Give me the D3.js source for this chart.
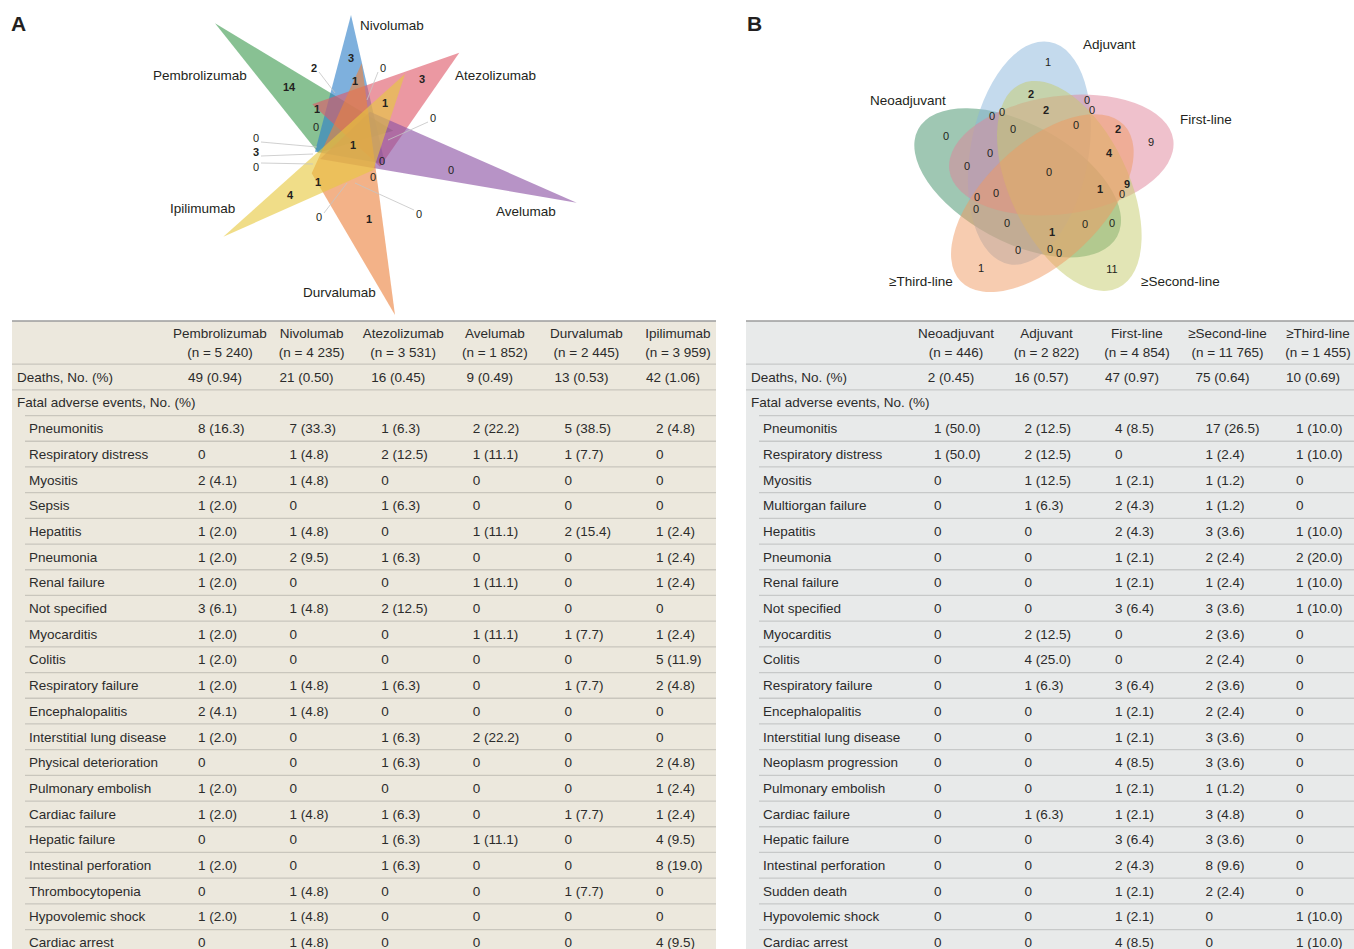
<!DOCTYPE html>
<html>
<head>
<meta charset="utf-8">
<script src="https://cdn.jsdelivr.net/npm/d3@7"></script>
<style>
  body { margin: 0; background: #fff; }
  svg { display: block; font-family: "Liberation Sans", Arial, Helvetica, sans-serif; }
</style>
</head>
<body>
<svg id="fig" width="1354" height="949"></svg>
<script>
// ---------------- Panel A: ICI agents ----------------
const drugs = ["Pembrolizumab", "Nivolumab", "Atezolizumab", "Avelumab", "Durvalumab", "Ipilimumab"];
const drugN = ["5 240", "4 235", "3 531", "1 852", "2 445", "3 959"];
const drugDeaths = ["49 (0.94)", "21 (0.50)", "16 (0.45)", "9 (0.49)", "13 (0.53)", "42 (1.06)"];
const eventsA = ["Pneumonitis", "Respiratory distress", "Myositis", "Sepsis", "Hepatitis", "Pneumonia",
  "Renal failure", "Not specified", "Myocarditis", "Colitis", "Respiratory failure", "Encephalopalitis",
  "Interstitial lung disease", "Physical deterioration", "Pulmonary embolish", "Cardiac failure",
  "Hepatic failure", "Intestinal perforation", "Thrombocytopenia", "Hypovolemic shock", "Cardiac arrest"];
const pembrolizumabAE = ["8 (16.3)", "0", "2 (4.1)", "1 (2.0)", "1 (2.0)", "1 (2.0)", "1 (2.0)", "3 (6.1)", "1 (2.0)", "1 (2.0)", "1 (2.0)", "2 (4.1)", "1 (2.0)", "0", "1 (2.0)", "1 (2.0)", "0", "1 (2.0)", "0", "1 (2.0)", "0"];
const nivolumabAE = ["7 (33.3)", "1 (4.8)", "1 (4.8)", "0", "1 (4.8)", "2 (9.5)", "0", "1 (4.8)", "0", "0", "1 (4.8)", "1 (4.8)", "0", "0", "0", "1 (4.8)", "0", "0", "1 (4.8)", "1 (4.8)", "1 (4.8)"];
const atezolizumabAE = ["1 (6.3)", "2 (12.5)", "0", "1 (6.3)", "0", "1 (6.3)", "0", "2 (12.5)", "0", "0", "1 (6.3)", "0", "1 (6.3)", "1 (6.3)", "0", "1 (6.3)", "1 (6.3)", "1 (6.3)", "0", "0", "0"];
const avelumabAE = ["2 (22.2)", "1 (11.1)", "0", "0", "1 (11.1)", "0", "1 (11.1)", "0", "1 (11.1)", "0", "0", "0", "2 (22.2)", "0", "0", "0", "1 (11.1)", "0", "0", "0", "0"];
const durvalumabAE = ["5 (38.5)", "1 (7.7)", "0", "0", "2 (15.4)", "0", "0", "0", "1 (7.7)", "0", "1 (7.7)", "0", "0", "0", "0", "1 (7.7)", "0", "0", "1 (7.7)", "0", "0"];
const ipilimumabAE = ["2 (4.8)", "0", "0", "0", "1 (2.4)", "1 (2.4)", "1 (2.4)", "0", "1 (2.4)", "5 (11.9)", "2 (4.8)", "0", "0", "2 (4.8)", "1 (2.4)", "1 (2.4)", "4 (9.5)", "8 (19.0)", "0", "0", "4 (9.5)"];
// region counts of the six-set diagram
const vennACounts = [2, 3, 0, 14, 1, 3, 1, 1, 0, 0, 1, 0, 3, 0, 0, 0, 0, 1, 4, 0, 1, 0];

// ---------------- Panel B: treatment lines ----------------
const lines = ["Neoadjuvant", "Adjuvant", "First-line", "≥Second-line", "≥Third-line"];
const lineN = ["446", "2 822", "4 854", "11 765", "1 455"];
const lineDeaths = ["2 (0.45)", "16 (0.57)", "47 (0.97)", "75 (0.64)", "10 (0.69)"];
const eventsB = ["Pneumonitis", "Respiratory distress", "Myositis", "Multiorgan failure", "Hepatitis", "Pneumonia",
  "Renal failure", "Not specified", "Myocarditis", "Colitis", "Respiratory failure", "Encephalopalitis",
  "Interstitial lung disease", "Neoplasm progression", "Pulmonary embolish", "Cardiac failure",
  "Hepatic failure", "Intestinal perforation", "Sudden death", "Hypovolemic shock", "Cardiac arrest"];
const neoadjuvantAE = ["1 (50.0)", "1 (50.0)", "0", "0", "0", "0", "0", "0", "0", "0", "0", "0", "0", "0", "0", "0", "0", "0", "0", "0", "0"];
const adjuvantAE = ["2 (12.5)", "2 (12.5)", "1 (12.5)", "1 (6.3)", "0", "0", "0", "0", "2 (12.5)", "4 (25.0)", "1 (6.3)", "0", "0", "0", "0", "1 (6.3)", "0", "0", "0", "0", "0"];
const firstLineAE = ["4 (8.5)", "0", "1 (2.1)", "2 (4.3)", "2 (4.3)", "1 (2.1)", "1 (2.1)", "3 (6.4)", "0", "0", "3 (6.4)", "1 (2.1)", "1 (2.1)", "4 (8.5)", "1 (2.1)", "1 (2.1)", "3 (6.4)", "2 (4.3)", "1 (2.1)", "1 (2.1)", "4 (8.5)"];
const secondLineAE = ["17 (26.5)", "1 (2.4)", "1 (1.2)", "1 (1.2)", "3 (3.6)", "2 (2.4)", "1 (2.4)", "3 (3.6)", "2 (3.6)", "2 (2.4)", "2 (3.6)", "2 (2.4)", "3 (3.6)", "3 (3.6)", "1 (1.2)", "3 (4.8)", "3 (3.6)", "8 (9.6)", "2 (2.4)", "0", "0"];
const thirdLineAE = ["1 (10.0)", "1 (10.0)", "0", "0", "1 (10.0)", "2 (20.0)", "1 (10.0)", "1 (10.0)", "0", "0", "0", "0", "0", "0", "0", "0", "0", "0", "0", "1 (10.0)", "1 (10.0)"];
// region counts of the five-set diagram
const vennBCounts = [1, 2, 2, 0, 0, 0, 0, 0, 0, 0, 2, 9, 4, 0, 0, 0, 1, 9, 0, 0, 0, 0, 0, 1, 0, 0, 0, 0, 0, 1, 11];

const svg = d3.select("#fig");
const ink = "#231f20";

// panel letters
svg.append("text").attr("x", 11).attr("y", 31).text("A")
  .attr("font-size", 21).attr("font-weight", "bold").attr("fill", ink);
svg.append("text").attr("x", 747).attr("y", 31).text("B")
  .attr("font-size", 21).attr("font-weight", "bold").attr("fill", ink);

// ---------- tables ----------
function drawTable(cfg) {
  const g = svg.append("g");
  const row = d3.scaleLinear().domain([0, 1]).range([377, 402.7]);
  const col = d3.scaleLinear().domain([0, cfg.heads.length - 1]).range(cfg.colRange);
  const w = cfg.x1 - cfg.x0;

  g.append("rect").attr("x", cfg.x0).attr("y", 321).attr("width", w).attr("height", 949 - 321)
    .attr("fill", cfg.bg);

  const txt = (x, y, s, anchor) => g.append("text").attr("x", x).attr("y", y).attr("dy", "0.35em")
    .attr("text-anchor", anchor || "start").attr("font-size", 13.5).attr("fill", "#2b2b2b").text(s);

  // header
  cfg.heads.forEach((h, i) => {
    txt(col(i) + 22, 333, h, "middle");
    txt(col(i) + 22, 352, `(n = ${cfg.ns[i]})`, "middle");
  });
  txt(cfg.x0 + 5, row(0), "Deaths, No. (%)");
  cfg.deaths.forEach((d, i) => txt(col(i) + 17, row(0), d, "middle"));
  txt(cfg.x0 + 5, row(1), "Fatal adverse events, No. (%)");

  cfg.events.forEach((e, r) => {
    txt(cfg.x0 + 17, row(r + 2), e);
    cfg.cols.forEach((c, i) => txt(col(i), row(r + 2), c[r]));
  });

  // rules
  g.append("line").attr("x1", cfg.x0).attr("x2", cfg.x1).attr("y1", 321).attr("y2", 321)
    .attr("stroke", "#9d9d9d").attr("stroke-width", 1.6);
  [-0.5, 0.5].forEach(k => g.append("line").attr("x1", cfg.x0).attr("x2", cfg.x1)
    .attr("y1", row(k)).attr("y2", row(k)).attr("stroke", cfg.rule).attr("stroke-width", 1.3));
  d3.range(1.5, cfg.events.length + 1.5, 1).forEach(k => g.append("line")
    .attr("x1", cfg.x0 + 13).attr("x2", cfg.x1).attr("y1", row(k)).attr("y2", row(k))
    .attr("stroke", cfg.rule).attr("stroke-width", 1.3));
}

drawTable({
  x0: 12, x1: 716, bg: "#ece8dd", rule: "#c9c6bd", colRange: [198, 656],
  heads: drugs, ns: drugN, deaths: drugDeaths, events: eventsA,
  cols: [pembrolizumabAE, nivolumabAE, atezolizumabAE, avelumabAE, durvalumabAE, ipilimumabAE]
});
drawTable({
  x0: 746, x1: 1354, bg: "#e8eaea", rule: "#c7c9c9", colRange: [934, 1296],
  heads: lines, ns: lineN, deaths: lineDeaths, events: eventsB,
  cols: [neoadjuvantAE, adjuvantAE, firstLineAE, secondLineAE, thirdLineAE]
});

// ---------- Venn A: six triangles ----------
{
  const x = d3.scaleLinear().domain([0, 1]).range([350, 351]);
  const y = d3.scaleLinear().domain([0, 1]).range([140, 141]);
  const g = svg.append("g");
  const shapes = [
    { fill: "#3f9b50", pts: [[-135, -116.7], [43.3, -9.3], [-31.7, 12.7]] },
    { fill: "#2f7fc8", pts: [[1, -125], [35, 24], [-35, 11.7]] },
    { fill: "#de5869", pts: [[109.3, -87.3], [-37.7, -35.7], [30, 26.7]] },
    { fill: "#8a50a3", pts: [[226.7, 62.7], [20, -28.3], [-30, 19]] },
    { fill: "#eb823f", pts: [[45, 175], [11.7, -76.7], [-38.3, 33.3]] },
    { fill: "#e6c83f", pts: [[-126.7, 96.7], [55, -66], [23.3, 30]] }
  ];
  const line = d3.line().x(d => x(d[0])).y(d => y(d[1])).curve(d3.curveLinearClosed);
  g.selectAll("path.tri").data(shapes).join("path").attr("class", "tri")
    .attr("d", d => line(d.pts)).attr("fill", d => d.fill).attr("fill-opacity", 0.62);

  const names = [
    { t: drugs[0], p: [-197, -65] },
    { t: drugs[1], p: [10, -115] },
    { t: drugs[2], p: [105, -65] },
    { t: drugs[3], p: [146, 71] },
    { t: drugs[4], p: [-47, 152] },
    { t: drugs[5], p: [-180, 68] }
  ];
  g.selectAll("text.nm").data(names).join("text").attr("class", "nm")
    .attr("x", d => x(d.p[0])).attr("y", d => y(d.p[1])).attr("dy", "0.35em")
    .attr("font-size", 13.5).attr("fill", ink).text(d => d.t);

  // anchor of each count; optional leader toward its region
  const spots = [
    { p: [-36, -72], l: [-15, -47] }, { p: [1, -82] }, { p: [33, -72], l: [17, -40] },
    { p: [-61, -53] }, { p: [5, -59] }, { p: [72, -61] }, { p: [35, -37] }, { p: [-33, -31] },
    { p: [-34, -13] }, { p: [83, -22], l: [38, 0] }, { p: [3, 5] },
    { p: [-94, -2], l: [-33, 7] }, { p: [-94, 12], l: [-37, 14] }, { p: [-94, 27], l: [-37, 24] },
    { p: [32, 21] }, { p: [101, 30] }, { p: [23, 37] }, { p: [-32, 42] }, { p: [-60, 55] },
    { p: [-31, 77], l: [-3, 43] }, { p: [19, 79] }, { p: [69, 74], l: [5, 43] }
  ];
  const items = vennACounts.map((v, i) => ({ v, ...spots[i] }));
  g.selectAll("line.ld").data(items.filter(d => d.l)).join("line").attr("class", "ld")
    .attr("x1", d => x(d.p[0] + Math.sign(d.l[0] - d.p[0]) * 5)).attr("y1", d => y(d.p[1] + Math.sign(d.l[1] - d.p[1]) * 4))
    .attr("x2", d => x(d.l[0])).attr("y2", d => y(d.l[1]))
    .attr("stroke", "#c4c4c4").attr("stroke-width", 0.8);
  g.selectAll("text.ct").data(items).join("text").attr("class", "ct")
    .attr("x", d => x(d.p[0])).attr("y", d => y(d.p[1])).attr("dy", "0.35em")
    .attr("text-anchor", "middle").attr("font-size", 11)
    .attr("font-weight", d => d.v > 0 ? "bold" : "normal").attr("fill", ink).text(d => d.v);
}

// ---------- Venn B: five ellipses ----------
{
  const x = d3.scaleLinear().domain([0, 1]).range([1044, 1045]);
  const y = d3.scaleLinear().domain([0, 1]).range([176, 177]);
  const g = svg.append("g");
  const base = { cx: 17.3, cy: -21, rot: -7.7, a: 113, b: 59 };
  // step around the centre (multiples of 72 degrees) for each set, drawn in table order
  const sets = [
    { step: 3, fill: "#3f8f68" },
    { step: 4, fill: "#8ab6dc" },
    { step: 0, fill: "#e0849a" },
    { step: 1, fill: "#c6cc6c" },
    { step: 2, fill: "#ef9a62" }
  ];
  const ell = sets.map(s => {
    const t = s.step * 72 * Math.PI / 180;
    return {
      fill: s.fill,
      cx: base.cx * Math.cos(t) - base.cy * Math.sin(t),
      cy: base.cx * Math.sin(t) + base.cy * Math.cos(t),
      rot: base.rot + s.step * 72
    };
  });
  g.selectAll("ellipse").data(ell).join("ellipse")
    .attr("cx", 0).attr("cy", 0).attr("rx", x(base.a) - x(0)).attr("ry", y(base.b) - y(0))
    .attr("transform", d => `translate(${x(d.cx)},${y(d.cy)}) rotate(${d.rot})`)
    .attr("fill", d => d.fill).attr("fill-opacity", 0.5);

  const names = [
    { t: lines[0], p: [-174, -76] }, { t: lines[1], p: [39, -132] }, { t: lines[2], p: [136, -57] },
    { t: lines[3], p: [97, 105] }, { t: lines[4], p: [-155, 105] }
  ];
  g.selectAll("text.nm").data(names).join("text").attr("class", "nm")
    .attr("x", d => x(d.p[0])).attr("y", d => y(d.p[1])).attr("dy", "0.35em")
    .attr("font-size", 13.5).attr("fill", ink).text(d => d.t);

  const spots = [
    { p: [4, -114], s: 1 }, { p: [-13, -82] }, { p: [2, -66] }, { p: [43, -76] }, { p: [48, -66] },
    { p: [-52, -60] }, { p: [-42, -64] }, { p: [-98, -40], s: 1 }, { p: [-31, -47] }, { p: [32, -51] },
    { p: [74, -47] }, { p: [107, -34], s: 1 }, { p: [65, -23] }, { p: [-54, -23] }, { p: [-77, -10] },
    { p: [5, -4] }, { p: [56, 13] }, { p: [83, 8] }, { p: [78, 18] }, { p: [-48, 17] },
    { p: [-67, 21] }, { p: [-68, 33] }, { p: [-37, 47] }, { p: [8, 56] }, { p: [41, 48] },
    { p: [68, 47] }, { p: [-26, 74] }, { p: [6, 73] }, { p: [15, 77] }, { p: [-63, 92], s: 1 },
    { p: [68, 93], s: 1 }
  ];
  const items = vennBCounts.map((v, i) => ({ v, ...spots[i] }));
  g.selectAll("text.ct").data(items).join("text").attr("class", "ct")
    .attr("x", d => x(d.p[0])).attr("y", d => y(d.p[1])).attr("dy", "0.35em")
    .attr("text-anchor", "middle").attr("font-size", 11)
    .attr("font-weight", d => d.v > 0 && !d.s ? "bold" : "normal").attr("fill", ink).text(d => d.v);
}
</script>
</body>
</html>
